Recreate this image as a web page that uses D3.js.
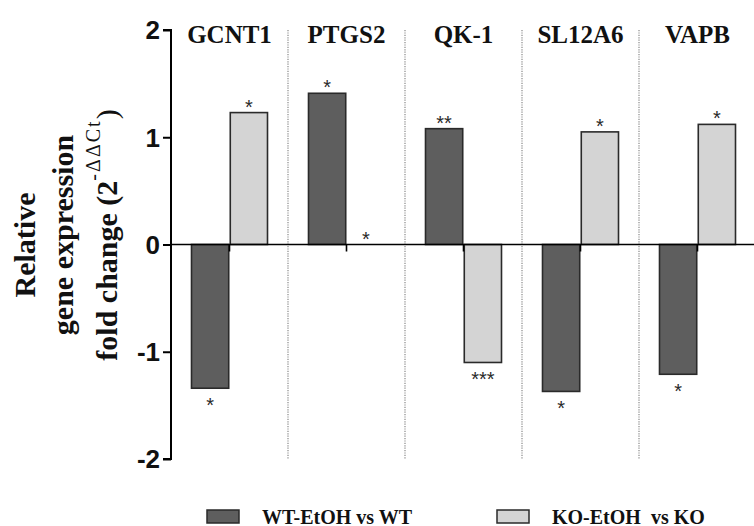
<!DOCTYPE html>
<html>
<head>
<meta charset="utf-8">
<script src="https://cdn.jsdelivr.net/npm/d3@7"></script>
<style>
  body { margin: 0; background: #fff; }
  svg { display: block; }
</style>
</head>
<body>
<svg id="chart"></svg>
<script>
// data
const genes = ["GCNT1", "PTGS2", "QK-1", "SL12A6", "VAPB"];
const seriesNames = ["WT-EtOH vs WT", "KO-EtOH  vs KO"];
const wtValues = [-1.34, 1.41, 1.08, -1.37, -1.21];
const koValues = [1.23, 0, -1.10, 1.05, 1.12];
const wtStars = ["*", "*", "**", "*", "*"];
const koStars = ["*", "*", "***", "*", "*"];
const yTicks = [-2, -1, 0, 1, 2];

const W = 754, H = 526;
const margin = { top: 30, right: 0, bottom: 67, left: 171 };
const plotW = 117 * genes.length;
const plotH = 429;

const serif = "Liberation Serif, Times New Roman, serif";
const sans = "Liberation Sans, Arial, sans-serif";

const svg = d3.select("#chart").attr("width", W).attr("height", H);
const g = svg.append("g").attr("transform", "translate(" + margin.left + "," + margin.top + ")");

const x = d3.scaleBand().domain(genes).range([0, plotW]);
const sub = d3.scaleBand().domain(["wt", "ko"]).range([x.bandwidth() / 2 - 38, x.bandwidth() / 2 + 38]).paddingInner(0.04);
const y = d3.scaleLinear().domain([-2, 2]).range([plotH, 0]);

const colors = { wt: "#5e5e5e", ko: "#d4d4d4" };

// dotted separators between genes
g.selectAll(".sep")
  .data(genes.slice(1))
  .enter().append("line")
  .attr("x1", d => x(d)).attr("x2", d => x(d))
  .attr("y1", 0).attr("y2", plotH)
  .attr("stroke", "#888")
  .attr("stroke-width", 1.2)
  .attr("stroke-dasharray", "1.2,1.2");

// gene titles
g.selectAll(".gene")
  .data(genes)
  .enter().append("text")
  .attr("x", d => x(d) + x.bandwidth() / 2)
  .attr("y", 13)
  .attr("text-anchor", "middle")
  .attr("font-family", serif)
  .attr("font-weight", "bold")
  .attr("font-size", 25)
  .attr("fill", "#111")
  .text(d => d);

const rows = genes.map((gene, i) => [
  { gene, key: "wt", value: wtValues[i], star: wtStars[i] },
  { gene, key: "ko", value: koValues[i], star: koStars[i] }
]).flat();

g.selectAll(".bar")
  .data(rows.filter(d => d.value !== 0))
  .enter().append("rect")
  .attr("x", d => x(d.gene) + sub(d.key))
  .attr("y", d => y(Math.max(0, d.value)))
  .attr("width", sub.bandwidth())
  .attr("height", d => Math.abs(y(d.value) - y(0)))
  .attr("fill", d => colors[d.key])
  .attr("stroke", "#2a2a2a")
  .attr("stroke-width", 1.6);

g.selectAll(".star")
  .data(rows)
  .enter().append("text")
  .attr("x", d => x(d.gene) + sub(d.key) + sub.bandwidth() / 2)
  .attr("y", d => d.value >= 0 ? y(d.value) + 1 : y(d.value) + 24)
  .attr("text-anchor", "middle")
  .attr("font-family", sans)
  .attr("font-size", 20)
  .attr("fill", "#2a2a2a")
  .text(d => d.star);

// y axis
const yAxis = g.append("g")
  .call(d3.axisLeft(y).tickValues(yTicks).tickSize(8).tickFormat(d => String(d)));
yAxis.select(".domain").attr("stroke-width", 2).attr("d", "M-8,0H0V" + plotH + "H-8");
yAxis.selectAll(".tick line").attr("stroke-width", 2);
yAxis.selectAll(".tick text")
  .attr("font-family", sans)
  .attr("font-weight", "bold")
  .attr("font-size", 26)
  .attr("fill", "#111")
  .attr("x", -11)
  .attr("dy", "0.34em");

// zero line with ticks under each gene
const xAxis = g.append("g")
  .attr("transform", "translate(0," + y(0) + ")")
  .call(d3.axisBottom(x).tickSize(7).tickFormat(""));
xAxis.select(".domain").attr("stroke-width", 1.6).attr("d", "M0,0H" + plotW);
xAxis.selectAll(".tick line").attr("stroke-width", 1.6);

// y axis title, three lines
const titleLines = [
  { x: 35, y: 245, text: "Relative" },
  { x: 73, y: 235, text: "gene expression" },
  { x: 117, y: 235, text: "fold change (2" }
];
titleLines.forEach((l, i) => {
  const t = svg.append("text")
    .attr("transform", "translate(" + l.x + "," + l.y + ") rotate(-90)")
    .attr("text-anchor", "middle")
    .attr("font-family", serif).attr("font-weight", "bold").attr("font-size", 30)
    .attr("fill", "#111");
  t.append("tspan").text(l.text);
  if (i === 2) {
    t.append("tspan").attr("dy", -17).attr("font-size", 20).attr("font-weight", "normal")
      .attr("letter-spacing", 2).text("-ΔΔCt");
    t.append("tspan").attr("dy", 17).attr("font-weight", "normal").text(")");
  }
});

// legend
const legend = svg.append("g").attr("transform", "translate(0,510)");
const legendX = [207, 497];
["wt", "ko"].forEach((k, i) => {
  legend.append("rect")
    .attr("x", legendX[i]).attr("y", 0)
    .attr("width", 32).attr("height", 13)
    .attr("fill", colors[k]).attr("stroke", "#2a2a2a").attr("stroke-width", 1.5);
  legend.append("text")
    .attr("x", legendX[i] + 55).attr("y", 13.5)
    .attr("font-family", serif).attr("font-weight", "bold").attr("font-size", 20)
    .attr("fill", "#111")
    .style("white-space", "pre")
    .text(seriesNames[i]);
});
</script>
</body>
</html>
